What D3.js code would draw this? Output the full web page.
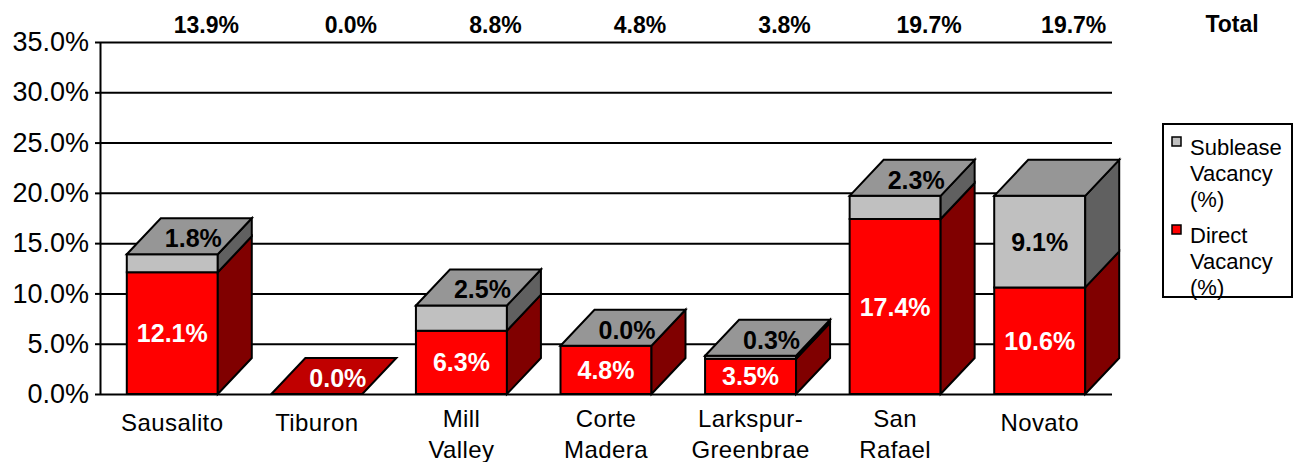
<!DOCTYPE html>
<html>
<head>
<meta charset="utf-8">
<script src="https://cdn.jsdelivr.net/npm/d3@7"></script>
<style>
  html, body { margin: 0; padding: 0; background: #fff; }
  svg { display: block; }
  text { font-family: "Liberation Sans", Arial, sans-serif; }
</style>
</head>
<body>
<svg id="chart" width="1299" height="462"></svg>
<script>
// ---- data ----
const categories = ["Sausalito", "Tiburon", "Mill Valley", "Corte Madera", "Larkspur-Greenbrae", "San Rafael", "Novato"];
const directVacancy = [12.1, 0.0, 6.3, 4.8, 3.5, 17.4, 10.6];
const subleaseVacancy = [1.8, 0.0, 2.5, 0.0, 0.3, 2.3, 9.1];
const yTicks = [0, 5, 10, 15, 20, 25, 30, 35];
const seriesNames = ["Sublease\nVacancy\n(%)", "Direct\nVacancy\n(%)"];
const totalHeader = "Total";

// ---- layout ----
const svg = d3.select("#chart");
const plotL = 100, plotR = 1112, plotT = 42, plotB = 394;
const dx = 34, dy = 36;
const fmt = v => d3.format(".1f")(v) + "%";

const x = d3.scaleBand().domain(categories).range([plotL, plotR]).paddingInner(0.3706).paddingOuter(0.1853);
const y = d3.scaleLinear().domain([0, 35]).range([plotB, plotT]);

const colors = {
  direct: { front: "#FF0000", side: "#800000", top: "#C00000" },
  sublease: { front: "#C0C0C0", side: "#606060", top: "#969696" }
};

// gridlines
const grid = svg.append("g").attr("transform", `translate(${plotL},0)`)
  .call(d3.axisLeft(y).tickValues(yTicks).tickSize(-(plotR - plotL)).tickFormat(""));
grid.select(".domain").remove();
grid.selectAll(".tick line").attr("stroke", "#000").attr("stroke-width", 2);

// y axis
const yAxis = svg.append("g").attr("transform", `translate(${plotL},0)`)
  .call(d3.axisLeft(y).tickValues(yTicks).tickSize(5).tickSizeOuter(0).tickPadding(6).tickFormat(fmt));
yAxis.select(".domain").attr("stroke", "#000").attr("stroke-width", 2);
yAxis.selectAll(".tick line").attr("stroke", "#000").attr("stroke-width", 2);
yAxis.selectAll(".tick text").attr("font-size", 27).attr("fill", "#000")
  .attr("font-family", '"Liberation Sans", Arial, sans-serif');

// bars
const data = categories.map((c, i) => ({
  cat: c, direct: directVacancy[i], sub: subleaseVacancy[i], total: directVacancy[i] + subleaseVacancy[i]
}));

const bars = svg.append("g");
const poly = (g, pts, fill) => g.append("polygon")
  .attr("points", pts.map(p => p.join(",")).join(" "))
  .attr("fill", fill).attr("stroke", "#000").attr("stroke-width", 2).attr("stroke-linejoin", "miter");

data.forEach(d => {
  const g = bars.append("g");
  const x0 = x(d.cat), x1 = x0 + x.bandwidth();
  const segs = [
    { key: "direct", v0: 0, v1: d.direct },
    { key: "sublease", v0: d.direct, v1: d.total }
  ];
  segs.forEach(s => {
    if (s.v1 - s.v0 <= 0) return;
    const ya = y(s.v0), yb = y(s.v1);
    poly(g, [[x0, ya], [x1, ya], [x1, yb], [x0, yb]], colors[s.key].front);
    poly(g, [[x1, ya], [x1 + dx, ya - dy], [x1 + dx, yb - dy], [x1, yb]], colors[s.key].side);
  });
  const yt = y(d.total);
  const topColor = d.direct > 0 ? colors.sublease.top : colors.direct.top;
  poly(g, [[x0, yt], [x0 + dx, yt - dy], [x1 + dx, yt - dy], [x1, yt]], topColor);

  // labels
  const cx = x0 + x.bandwidth() / 2;
  segs.forEach(s => {
    if (s.key === "sublease" && d.total === 0) return;
    const ya = y(s.v0), yb = y(s.v1);
    let lx, ly;
    if (ya - yb >= 30) { lx = cx; ly = (ya + yb) / 2; }
    else { lx = cx + 21; ly = yb - 16; }
    g.append("text")
      .attr("x", lx).attr("y", ly).attr("dy", "0.36em")
      .attr("text-anchor", "middle")
      .attr("font-size", 25).attr("font-weight", "bold")
      .attr("fill", s.key === "direct" ? "#fff" : "#000")
      .text(fmt(s.v1 - s.v0));
  });

  // category label
  const lines = d.cat.replace("-", "-\n").split(/[\s\n]+|\n/).filter(t => t.length);
  const lbl = svg.append("text").attr("text-anchor", "middle").attr("font-size", 24)
    .attr("letter-spacing", 0.4).attr("fill", "#000");
  lines.forEach((t, i) => {
    lbl.append("tspan").attr("x", cx)
      .attr("y", (lines.length === 1 ? 431 : 427) + i * 31).text(t);
  });

  // total row
  svg.append("text").attr("x", cx + dx).attr("y", 33).attr("text-anchor", "middle")
    .attr("font-size", 23).attr("font-weight", "bold").attr("fill", "#000").text(fmt(d.total));
});

svg.append("text").attr("x", plotR + 120).attr("y", 32).attr("text-anchor", "middle")
  .attr("font-size", 23).attr("font-weight", "bold").attr("fill", "#000").text(totalHeader);

// legend
const lg = svg.append("g");
lg.append("rect").attr("x", 1163).attr("y", 124).attr("width", 129).attr("height", 173)
  .attr("fill", "#fff").attr("stroke", "#000").attr("stroke-width", 2);
const legendFills = [colors.sublease.front, colors.direct.front];
seriesNames.forEach((name, i) => {
  const top = 137 + i * 88;
  lg.append("rect").attr("x", 1172).attr("y", top).attr("width", 9).attr("height", 9)
    .attr("fill", legendFills[i]).attr("stroke", "#000").attr("stroke-width", 1.5);
  const t = lg.append("text").attr("font-size", 22).attr("fill", "#000");
  name.split("\n").forEach((ln, j) => {
    t.append("tspan").attr("x", 1190).attr("y", top + 18 + j * 26).text(ln);
  });
});
</script>
</body>
</html>
